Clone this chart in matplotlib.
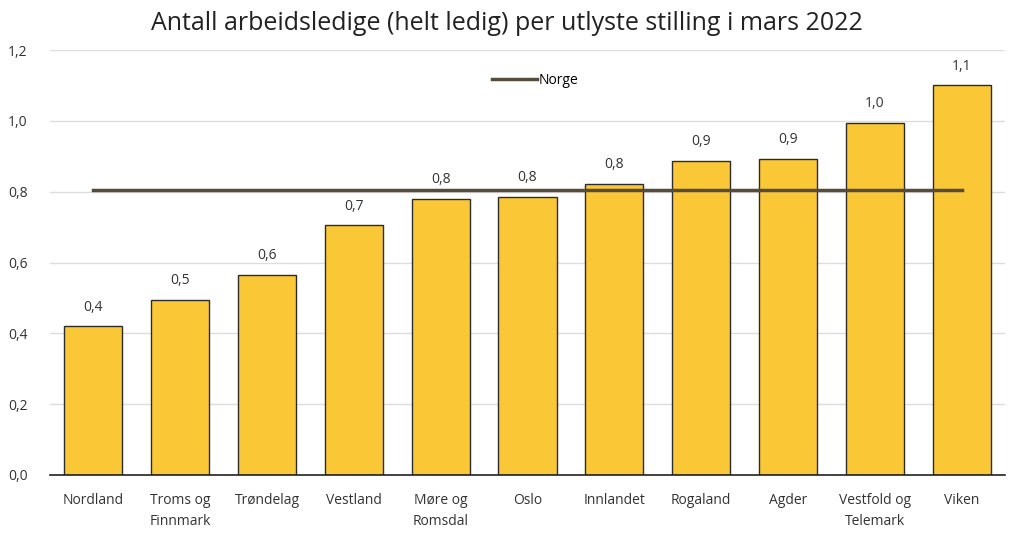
import matplotlib
matplotlib.use("Agg")
import matplotlib.pyplot as plt
from matplotlib.ticker import FuncFormatter

categories = ["Nordland", "Troms og\nFinnmark", "Trøndelag", "Vestland", "Møre og\nRomsdal",
              "Oslo", "Innlandet", "Rogaland", "Agder", "Vestfold og\nTelemark", "Viken"]
values = [0.42, 0.495, 0.565, 0.705, 0.78, 0.785, 0.822, 0.887, 0.893, 0.994, 1.10]
norge = 0.805
yticks = [0.0, 0.2, 0.4, 0.6, 0.8, 1.0, 1.2]

plt.rcParams['font.family'] = ['Open Sans', 'DejaVu Sans']

fig = plt.figure(figsize=(10.13, 5.35), dpi=100)
ax = fig.add_axes([50/1013, 1-475/535, 955/1013, 425/535])

x = list(range(len(categories)))
bars = ax.bar(x, values, width=0.67, color="#FAC836", edgecolor="#2b2b2b", linewidth=1.0, zorder=2)
ax.plot(x, [norge]*len(x), color="#554c3c", linewidth=2.5, label="Norge", zorder=3)

for xi, v in zip(x, values):
    ax.text(xi, v + 0.033, f"{v:.1f}".replace(".", ","), ha="center", va="bottom",
            fontsize=10, color="#333333")

ax.set_xlim(-0.5, len(categories) - 0.5)
ax.set_ylim(0, 1.2)
ax.set_yticks(yticks)
ax.yaxis.set_major_formatter(FuncFormatter(lambda v, p: f"{v:.1f}".replace(".", ",")))
ax.set_xticks(x)
ax.set_xticklabels(categories, fontsize=10, color="#333333", linespacing=1.5)
ax.tick_params(axis="y", labelsize=10, labelcolor="#333333", length=0, pad=16)
ax.tick_params(axis="x", length=0, pad=13)
ax.grid(axis="y", color="#dddddd", linewidth=1, zorder=0)
ax.set_axisbelow(True)
for s in ["top", "right", "left"]:
    ax.spines[s].set_visible(False)
ax.spines["bottom"].set_color("#222222")
ax.spines["bottom"].set_linewidth(1.2)

ax.legend(loc="upper center", bbox_to_anchor=(0.508, 0.975), frameon=False, fontsize=10,
          handlelength=3.2, handletextpad=0.1)

fig.text(0.5, 1-23/535, "Antall arbeidsledige (helt ledig) per utlyste stilling i mars 2022",
         ha="center", va="center", fontsize=18, color="#222222")

fig.savefig("out.png", dpi=100)
